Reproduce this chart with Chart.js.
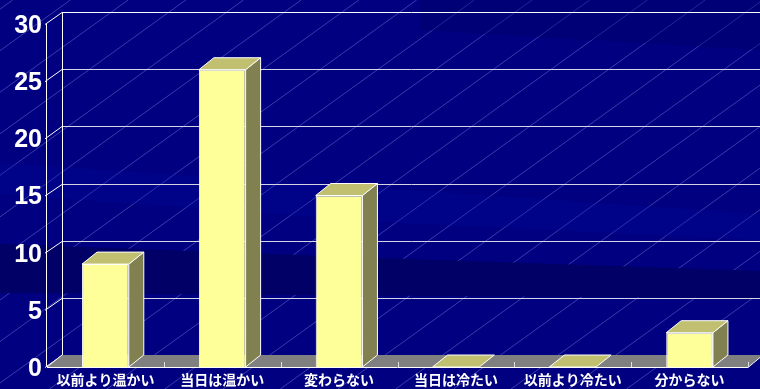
<!DOCTYPE html>
<html>
<head>
<meta charset="utf-8">
<script src="https://cdn.jsdelivr.net/npm/chart.js@4.4.0/dist/chart.umd.min.js"></script>
<style>
  html, body { margin: 0; padding: 0; background: #000080; overflow: hidden; }
  #wrap { width: 760px; height: 389px; position: relative; }
</style>
</head>
<body>
<div id="wrap"><canvas id="chart"></canvas></div>
<script>
// Survey answers and counts
const categories = ['以前より温かい', '当日は温かい', '変わらない', '当日は冷たい', '以前より冷たい', '分からない'];
const counts = [9, 26, 15, 0, 0, 3];
const yMin = 0;
const yMax = 30;
const yStep = 5;

// Depth of the pseudo-3D box (back wall is shifted right and up)
const DX = 15;
const DY = 12;

const COLORS = {
  navy: '#000080',
  bandDark: '#000066',
  stripe: 'rgba(140,140,230,0.42)',
  grid: '#d4d4e4',
  floor: '#808080',
  front: '#ffff99',
  top: '#c0c070',
  side: '#808050',
  edge: '#ffffff'
};

// Slide-style backdrop: navy field, faint diagonal stripes and soft shaded bands
const backdrop = {
  id: 'backdrop',
  beforeDraw(chart) {
    const { ctx, width, height } = chart;
    ctx.save();
    ctx.fillStyle = COLORS.navy;
    ctx.fillRect(0, 0, width, height);

    // diagonal stripes rising to the right
    const slope = 0.72, gap = 57.7, c0 = 589.7;
    ctx.strokeStyle = COLORS.stripe;
    ctx.lineWidth = 1;
    for (let k = -14; k <= 10; k++) {
      const c = c0 + gap * k;
      ctx.beginPath();
      ctx.moveTo(c - height / slope, height);
      ctx.lineTo(c, 0);
      ctx.stroke();
    }

    // lighter band
    ctx.fillStyle = 'rgba(0,14,160,0.22)';
    ctx.beginPath();
    ctx.moveTo(0, 163); ctx.lineTo(380, 188); ctx.lineTo(width, 214);
    ctx.lineTo(width, 240); ctx.lineTo(380, 222); ctx.lineTo(0, 194);
    ctx.closePath(); ctx.fill();

    // slightly darker wash across the upper right
    ctx.fillStyle = 'rgba(0,0,100,0.35)';
    ctx.beginPath();
    ctx.moveTo(420, 0); ctx.lineTo(width, 0); ctx.lineTo(width, 50);
    ctx.lineTo(420, 30);
    ctx.closePath(); ctx.fill();

    // darker band
    ctx.fillStyle = COLORS.bandDark;
    ctx.beginPath();
    ctx.moveTo(0, 244); ctx.lineTo(380, 258); ctx.lineTo(width, 271);
    ctx.lineTo(width, 298); ctx.lineTo(0, 293);
    ctx.closePath(); ctx.fill();
    ctx.restore();
  }
};

// Back wall grid, side ticks, front axis and floor
const box3d = {
  id: 'box3d',
  beforeDatasetsDraw(chart) {
    const { ctx, chartArea: a, scales: { y } } = chart;
    ctx.save();
    ctx.lineWidth = 1;

    // back wall grid lines
    for (let v = yMin; v <= yMax; v += yStep) {
      const py = Math.round(y.getPixelForValue(v) - DY) + 0.5;
      ctx.strokeStyle = v === yMax ? COLORS.edge : COLORS.grid;
      ctx.beginPath();
      ctx.moveTo(a.left + DX, py);
      ctx.lineTo(a.right + DX, py);
      ctx.stroke();
      // connector from front tick to back wall
      const fy = y.getPixelForValue(v);
      ctx.strokeStyle = COLORS.edge;
      ctx.beginPath();
      ctx.moveTo(a.left - 2, fy + 0.5);
      ctx.lineTo(a.left + DX, py);
      ctx.stroke();
    }

    // back wall left edge
    ctx.strokeStyle = COLORS.edge;
    ctx.beginPath();
    ctx.moveTo(a.left + DX + 0.5, a.top - DY);
    ctx.lineTo(a.left + DX + 0.5, a.bottom - DY);
    ctx.stroke();

    // front vertical axis
    ctx.beginPath();
    ctx.moveTo(a.left - 0.5, a.top);
    ctx.lineTo(a.left - 0.5, a.bottom);
    ctx.stroke();

    // floor
    ctx.fillStyle = COLORS.floor;
    ctx.beginPath();
    ctx.moveTo(a.left, a.bottom);
    ctx.lineTo(a.left + DX, a.bottom - DY);
    ctx.lineTo(a.right + DX, a.bottom - DY);
    ctx.lineTo(a.right, a.bottom);
    ctx.closePath();
    ctx.fill();
    ctx.strokeStyle = COLORS.edge;
    ctx.beginPath();
    ctx.moveTo(a.left, a.bottom + 0.5);
    ctx.lineTo(a.right, a.bottom + 0.5);
    ctx.lineTo(a.right + DX, a.bottom - DY);
    ctx.moveTo(a.left, a.bottom);
    ctx.lineTo(a.left + DX, a.bottom - DY);
    ctx.stroke();

    // category separators on the floor edge
    const n = categories.length;
    const cw = (a.right - a.left) / n;
    ctx.strokeStyle = '#e0e0e0';
    for (let i = 1; i <= n; i++) {
      const px = Math.round(a.left + cw * i) + 0.5;
      ctx.beginPath();
      ctx.moveTo(px, a.bottom);
      ctx.lineTo(px, a.bottom - 5);
      ctx.stroke();
    }
    ctx.restore();
  },
  afterDatasetsDraw(chart) {
    const { ctx } = chart;
    const meta = chart.getDatasetMeta(0);
    ctx.save();
    ctx.lineWidth = 1;
    ctx.strokeStyle = COLORS.edge;
    meta.data.forEach(bar => {
      const { x, y, base, width } = bar.getProps(['x', 'y', 'base', 'width'], true);
      const l = x - width / 2, r = x + width / 2;
      // side face
      if (base - y > 0.5) {
        ctx.fillStyle = COLORS.side;
        ctx.beginPath();
        ctx.moveTo(r, y);
        ctx.lineTo(r + DX, y - DY);
        ctx.lineTo(r + DX, base - DY);
        ctx.lineTo(r, base);
        ctx.closePath();
        ctx.fill();
        ctx.stroke();
      }
      // top face
      ctx.fillStyle = COLORS.top;
      ctx.beginPath();
      ctx.moveTo(l, y);
      ctx.lineTo(r, y);
      ctx.lineTo(r + DX, y - DY);
      ctx.lineTo(l + DX, y - DY);
      ctx.closePath();
      ctx.fill();
      ctx.stroke();
    });
    ctx.restore();
  }
};

new Chart(document.getElementById('chart'), {
  type: 'bar',
  data: {
    labels: categories,
    datasets: [{
      data: counts,
      backgroundColor: COLORS.front,
      borderColor: COLORS.edge,
      borderWidth: 1,
      borderSkipped: 'bottom',
      barPercentage: 0.4,
      categoryPercentage: 1.0
    }]
  },
  options: {
    responsive: true,
    maintainAspectRatio: false,
    animation: false,
    layout: { padding: { top: 24, right: 12, left: 0, bottom: 0 } },
    plugins: {
      legend: { display: false },
      tooltip: { enabled: false }
    },
    scales: {
      x: {
        grid: { display: false, drawTicks: false },
        border: { display: false },
        ticks: {
          color: '#ffffff',
          font: { family: '"Noto Sans CJK JP"', size: 14, weight: 'bold' },
          padding: 4,
          maxRotation: 0,
          autoSkip: false
        },
        afterFit(scale) { scale.height = 22; }
      },
      y: {
        min: yMin,
        max: yMax,
        grid: { display: false, drawTicks: false },
        border: { display: false },
        ticks: {
          stepSize: yStep,
          color: '#ffffff',
          font: { family: '"Liberation Sans Narrow", "Liberation Sans"', size: 25, weight: 'bold' },
          padding: 5,
          labelOffset: 2
        },
        afterFit(scale) { scale.width = 47; }
      }
    }
  },
  plugins: [backdrop, box3d]
});
</script>
</body>
</html>
